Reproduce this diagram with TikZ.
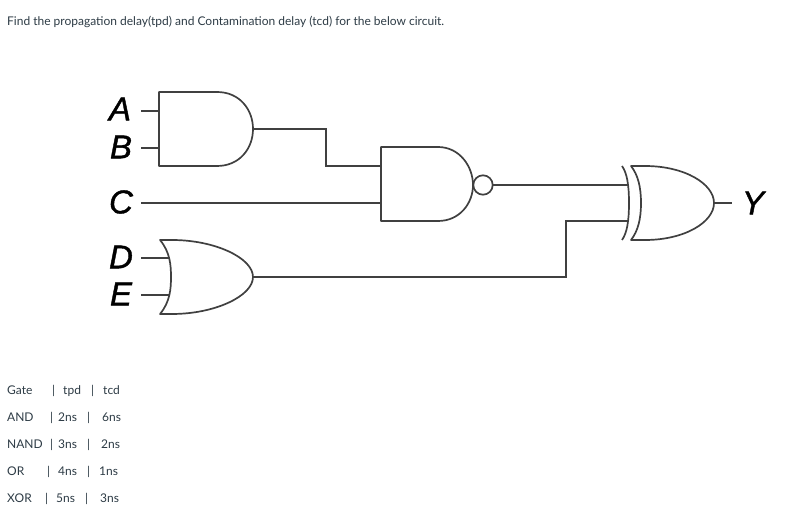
\documentclass[tikz,border=0pt]{standalone}
\usepackage{fontspec}
\setmainfont{Lato}
\newfontfamily\pinfont[ItalicFeatures={FakeBold=1.2}]{Liberation Sans}
\usepackage{tikz}
\definecolor{textgray}{HTML}{2D3B45}
\definecolor{wiregray}{HTML}{404040}
\newcommand{\tabcell}[2]{\rlap{\hspace{#1pt}#2}}
\tikzset{
	wire/.style={draw=wiregray,line width=1.6pt},
	gatebody/.style={draw=wiregray,line width=1.7pt,line join=round},
	pinlabel/.style={font=\pinfont\itshape\fontsize{33}{33}\selectfont,text=black,inner sep=0pt},
	tabletext/.style={font=\fontsize{12}{14}\selectfont,text=textgray,anchor=west,inner sep=0pt},
}
\begin{document}
\begin{tikzpicture}[x=1pt,y=-1pt]
	\useasboundingbox (0,0) rectangle (801,518);
	% question and labels
	\node[font=\fontsize{12}{15}\selectfont,text=textgray,anchor=west,inner sep=0pt] (question) at (7,22) {Find the propagation delay(tpd) and Contamination delay (tcd) for the below circuit.};
	\node[pinlabel] (labA) at (120,109) {A};
	\node[pinlabel] (labB) at (121,147) {B};
	\node[pinlabel] (labC) at (121,202) {C};
	\node[pinlabel] (labD) at (121,257) {D};
	\node[pinlabel] (labE) at (121,294) {E};
	\node[pinlabel] (labY) at (753,203) {Y};
	% pins
	\coordinate (inA) at (141,111);
	\coordinate (inB) at (141,148);
	\coordinate (inC) at (141,203);
	\coordinate (inD) at (141,258);
	\coordinate (inE) at (141,295);
	\coordinate (andA) at (159,111);
	\coordinate (andB) at (159,148);
	\coordinate (andOut) at (253,129);
	\coordinate (orD) at (170,258);
	\coordinate (orE) at (170,295);
	\coordinate (orOut) at (253,277);
	\coordinate (nandA) at (381,166);
	\coordinate (nandB) at (381,203);
	\coordinate (nandOut) at (493,185);
	\coordinate (xorA) at (628,185);
	\coordinate (xorB) at (628,221);
	\coordinate (xorOut) at (714,203);
	\coordinate (outY) at (732,203);
	% gates
	\draw[gatebody] (217,92) -- (159,92) -- (159,166) -- (217,166) .. controls (240,166) and (253,148) .. (andOut) .. controls (253,110) and (240,92) .. (217,92);
	\draw[gatebody] (160,240) .. controls (170,252) and (171,265) .. (171,277) .. controls (171,289) and (170,302) .. (160,314) -- (172,314) .. controls (215,314) and (253,296) .. (orOut) .. controls (253,258) and (215,240) .. (172,240) -- cycle;
	\draw[gatebody] (438,147) -- (381,147) -- (381,221) -- (438,221) .. controls (460,221) and (473,203) .. (473,185) .. controls (473,167) and (460,147) .. (438,147);
	\draw[gatebody,fill=white] (483,185) circle (9.7);
	\draw[gatebody] (622,166) .. controls (627,173) and (629,185) .. (629,203) .. controls (629,221) and (627,233) .. (622,240);
	\draw[gatebody] (631,166) .. controls (638,175) and (641,187) .. (641,203) .. controls (641,219) and (638,231) .. (631,240) -- (645,240) .. controls (685,240) and (714,222) .. (xorOut) .. controls (714,184) and (685,166) .. (645,166) -- cycle;
	% wires
	\draw[wire] (inA) -- (andA);
	\draw[wire] (inB) -- (andB);
	\draw[wire] (inC) -- (nandB);
	\draw[wire] (inD) -- (orD);
	\draw[wire] (inE) -- (orE);
	\draw[wire] (andOut) -| (326,166) -- (nandA);
	\draw[wire] (nandOut) -- (xorA);
	\draw[wire] (orOut) -| (566,221) -- (xorB);
	\draw[wire] (xorOut) -- (outY);
	% delay table
	\node[tabletext] (rowHead) at (7,391) {\tabcell{0}{Gate}\tabcell{45}{|}\tabcell{56}{tpd}\tabcell{84}{|}\tabcell{96}{tcd}\phantom{Gate}};
	\node[tabletext] (rowAnd) at (7,418) {\tabcell{0}{AND}\tabcell{43}{|}\tabcell{51}{2ns}\tabcell{80}{|}\tabcell{95}{6ns}\phantom{AND}};
	\node[tabletext] (rowNand) at (7,445) {\tabcell{0}{NAND}\tabcell{43}{|}\tabcell{51}{3ns}\tabcell{80}{|}\tabcell{94}{2ns}\phantom{NAND}};
	\node[tabletext] (rowOr) at (7,472) {\tabcell{0}{OR}\tabcell{40}{|}\tabcell{51}{4ns}\tabcell{80}{|}\tabcell{92}{1ns}\phantom{OR}};
	\node[tabletext] (rowXor) at (7,499) {\tabcell{0}{XOR}\tabcell{38}{|}\tabcell{49}{5ns}\tabcell{78}{|}\tabcell{93}{3ns}\phantom{XOR}};
\end{tikzpicture}
\end{document}
